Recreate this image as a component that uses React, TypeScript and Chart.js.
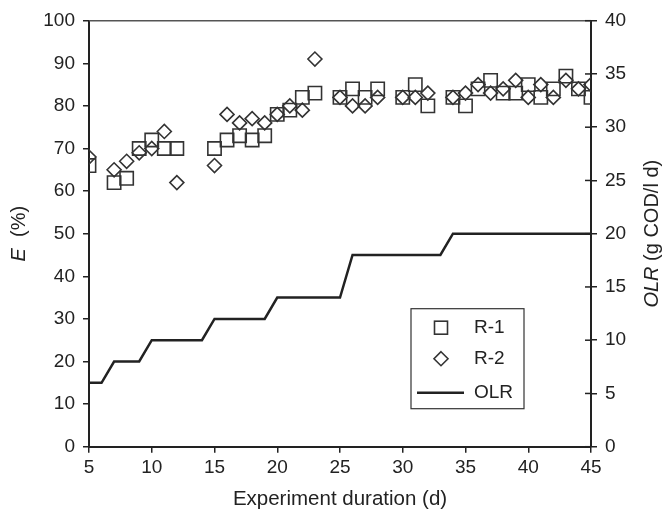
import React, { useEffect, useRef } from "react";
import { Chart, registerables } from "chart.js";

Chart.register(...registerables);

// Experiment days with efficiency measurements
const days = [5, 7, 8, 9, 10, 11, 12, 15, 16, 17, 18, 19, 20, 21, 22, 23, 25, 26, 27, 28, 30, 31, 32, 34, 35, 36, 37, 38, 39, 40, 41, 42, 43, 44, 45];
// E (%) for reactor R-1
const r1Values = [66, 62, 63, 70, 72, 70, 70, 70, 72, 73, 72, 73, 78, 79, 82, 83, 82, 84, 82, 84, 82, 85, 80, 82, 80, 84, 86, 83, 83, 85, 82, 84, 87, 84, 82];
// E (%) for reactor R-2
const r2Values = [68, 65, 67, 69, 70, 74, 62, 66, 78, 76, 77, 76, 78, 80, 79, 91, 82, 80, 80, 82, 82, 82, 83, 82, 83, 85, 83, 84, 86, 82, 85, 82, 86, 84, 85];
// OLR step profile (g COD/l d)
const olrDays = [5, 6, 7, 9, 10, 14, 15, 19, 20, 25, 26, 33, 34, 45];
const olrValues = [6, 6, 8, 8, 10, 10, 12, 12, 14, 14, 18, 18, 20, 20];

const xTicks = [5, 10, 15, 20, 25, 30, 35, 40, 45];
const leftTicks = [0, 10, 20, 30, 40, 50, 60, 70, 80, 90, 100];
const rightTicks = [0, 5, 10, 15, 20, 25, 30, 35, 40];

const FONT = '"Liberation Sans", Arial, Helvetica, sans-serif';
const INK = "#222";

function drawMixed(
  ctx: CanvasRenderingContext2D,
  parts: { text: string; italic: boolean }[],
  size: number,
  cx: number,
  cy: number,
  rot: number
) {
  ctx.save();
  ctx.translate(cx, cy);
  ctx.rotate(rot);
  const fonts = parts.map((p) => `${p.italic ? "italic " : ""}${size}px ${FONT}`);
  let total = 0;
  const widths = parts.map((p, i) => {
    ctx.font = fonts[i];
    const w = ctx.measureText(p.text).width;
    total += w;
    return w;
  });
  let x = -total / 2;
  ctx.textBaseline = "middle";
  ctx.textAlign = "left";
  ctx.fillStyle = INK;
  parts.forEach((p, i) => {
    ctx.font = fonts[i];
    ctx.fillText(p.text, x, 0);
    x += widths[i];
  });
  ctx.restore();
}

const decor = {
  id: "decor",
  afterDraw(chart: any) {
    const { ctx, chartArea: ca, scales } = chart;
    ctx.save();
    // top frame line
    ctx.strokeStyle = "#555";
    ctx.lineWidth = 1.5;
    ctx.beginPath();
    ctx.moveTo(ca.left, ca.top);
    ctx.lineTo(ca.right, ca.top);
    ctx.stroke();
    // inner half of right-axis ticks (crossing ticks)
    const y2 = scales.y2;
    ctx.strokeStyle = INK;
    ctx.lineWidth = 1.5;
    y2.ticks.forEach((_t: any, i: number) => {
      const py = y2.getPixelForTick(i);
      ctx.beginPath();
      ctx.moveTo(ca.right - 6, py);
      ctx.lineTo(ca.right, py);
      ctx.stroke();
    });
    ctx.restore();

    // axis titles
    const midY = (ca.top + ca.bottom) / 2;
    drawMixed(ctx, [{ text: "Experiment duration (d)", italic: false }], 20.5, (ca.left + ca.right) / 2, 499, 0);
    drawMixed(
      ctx,
      [
        { text: "E", italic: true },
        { text: "  (%)", italic: false },
      ],
      20,
      19,
      midY,
      -Math.PI / 2
    );
    drawMixed(
      ctx,
      [
        { text: "OLR", italic: true },
        { text: " (g COD/l d)", italic: false },
      ],
      20,
      652,
      midY,
      -Math.PI / 2
    );

    // legend
    const bx = ca.left + 322;
    const by = ca.top + 288;
    const bw = 113;
    const bh = 100;
    ctx.save();
    ctx.fillStyle = "#fff";
    ctx.fillRect(bx, by, bw, bh);
    ctx.strokeStyle = "#333";
    ctx.lineWidth = 1.2;
    ctx.strokeRect(bx, by, bw, bh);
    const sx = bx + 30;
    const rows = [by + 19, by + 50, by + 84];
    ctx.strokeStyle = "#333";
    ctx.lineWidth = 1.6;
    // square
    ctx.strokeRect(sx - 6.5, rows[0] - 6.5, 13, 13);
    // diamond
    ctx.beginPath();
    ctx.moveTo(sx, rows[1] - 7);
    ctx.lineTo(sx + 7, rows[1]);
    ctx.lineTo(sx, rows[1] + 7);
    ctx.lineTo(sx - 7, rows[1]);
    ctx.closePath();
    ctx.stroke();
    // line
    ctx.strokeStyle = INK;
    ctx.lineWidth = 2.5;
    ctx.beginPath();
    ctx.moveTo(bx + 6, rows[2]);
    ctx.lineTo(bx + 53, rows[2]);
    ctx.stroke();
    ctx.restore();
    const labels = ["R-1", "R-2", "OLR"];
    labels.forEach((l, i) => {
      ctx.save();
      ctx.font = `19px ${FONT}`;
      ctx.fillStyle = INK;
      ctx.textAlign = "left";
      ctx.textBaseline = "middle";
      ctx.fillText(l, bx + 63, rows[i]);
      ctx.restore();
    });
  },
};

export default function App() {
  const ref = useRef<HTMLCanvasElement | null>(null);

  useEffect(() => {
    document.body.style.margin = "0";
    const canvas = ref.current;
    if (!canvas) return;

    const axisGrid = {
      drawOnChartArea: false,
      drawTicks: true,
      tickLength: 6,
      color: INK,
      lineWidth: 1.5,
    };
    const axisBorder = { display: true, color: INK, width: 2 };
    const tickFont = { family: FONT, size: 19 };

    const chart = new Chart(canvas, {
      type: "scatter",
      data: {
        datasets: [
          {
            label: "R-1",
            data: days.map((d, i) => ({ x: d, y: r1Values[i] })),
            yAxisID: "y",
            pointStyle: "rect",
            pointRadius: 9.4,
            pointHoverRadius: 9.4,
            borderColor: "#333",
            borderWidth: 1.6,
            backgroundColor: "rgba(0,0,0,0)",
          },
          {
            label: "R-2",
            data: days.map((d, i) => ({ x: d, y: r2Values[i] })),
            yAxisID: "y",
            pointStyle: "rectRot",
            pointRadius: 7,
            pointHoverRadius: 7,
            borderColor: "#333",
            borderWidth: 1.6,
            backgroundColor: "rgba(0,0,0,0)",
          },
          {
            type: "line",
            label: "OLR",
            data: olrDays.map((d, i) => ({ x: d, y: olrValues[i] })),
            yAxisID: "y2",
            showLine: true,
            pointRadius: 0,
            borderColor: INK,
            borderWidth: 2.5,
            fill: false,
            tension: 0,
          } as any,
        ],
      },
      options: {
        animation: false,
        responsive: false,
        devicePixelRatio: 1,
        layout: { padding: { top: 20.7, left: 0, right: 0, bottom: 0 } },
        plugins: {
          legend: { display: false },
          tooltip: { enabled: false },
          title: { display: false },
        },
        scales: {
          x: {
            type: "linear",
            min: 5,
            max: 45,
            afterBuildTicks: (s: any) => {
              s.ticks = xTicks.map((v) => ({ value: v }));
            },
            afterFit: (s: any) => {
              s.height = 514 - 446.7;
            },
            grid: axisGrid,
            border: axisBorder,
            ticks: { font: tickFont, color: INK, padding: 4, maxRotation: 0 },
          },
          y: {
            type: "linear",
            position: "left",
            min: 0,
            max: 100,
            afterBuildTicks: (s: any) => {
              s.ticks = leftTicks.map((v) => ({ value: v }));
            },
            afterFit: (s: any) => {
              s.width = 89;
            },
            grid: axisGrid,
            border: axisBorder,
            ticks: { font: tickFont, color: INK, padding: 8 },
          },
          y2: {
            type: "linear",
            position: "right",
            min: 0,
            max: 40,
            afterBuildTicks: (s: any) => {
              s.ticks = rightTicks.map((v) => ({ value: v }));
            },
            afterFit: (s: any) => {
              s.width = 663 - 591;
            },
            grid: axisGrid,
            border: axisBorder,
            ticks: { font: tickFont, color: INK, padding: 8 },
          },
        },
      } as any,
      plugins: [decor],
    });

    return () => chart.destroy();
  }, []);

  return (
    <div style={{ width: 663, height: 514 }}>
      <canvas ref={ref} width={663} height={514} style={{ display: "block" }} />
    </div>
  );
}
